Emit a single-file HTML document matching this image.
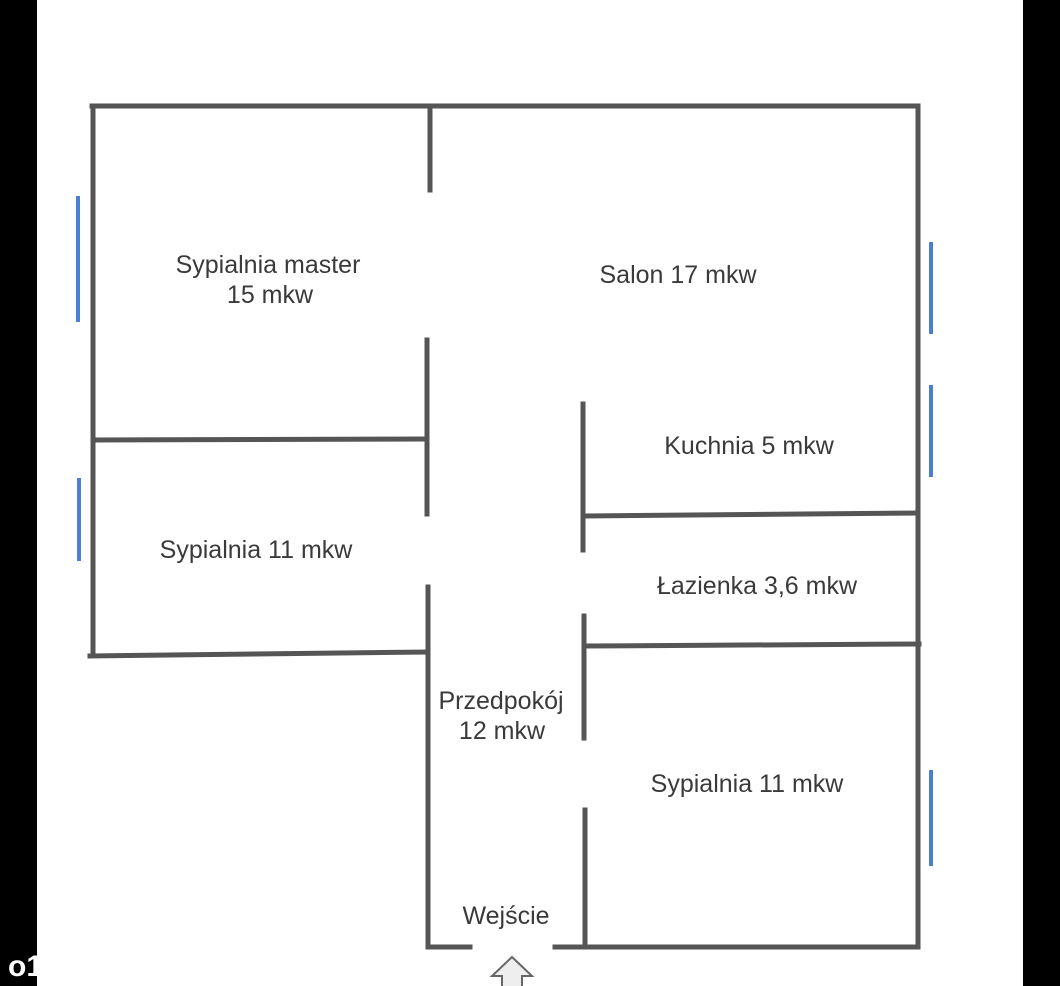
<!DOCTYPE html>
<html><head><meta charset="utf-8"><style>
html,body{margin:0;padding:0;background:#fff;}
svg{display:block;}
text{font-family:"Liberation Sans",sans-serif;font-size:25px;fill:#3a3a3a;}
</style></head><body>
<svg width="1060" height="986" viewBox="0 0 1060 986" xmlns="http://www.w3.org/2000/svg">
<rect x="0" y="0" width="1060" height="986" fill="#fff"/>
<rect x="0" y="0" width="37" height="986" fill="#000"/>
<rect x="1023" y="0" width="37" height="986" fill="#000"/>
<text x="8" y="976" style="fill:#fff;font-size:30px;font-weight:bold">o1</text>
<rect x="37" y="940" width="3" height="46" fill="#fff"/>
<g stroke="#555" stroke-width="5" fill="none" stroke-linecap="square">
<line x1="92" y1="106" x2="918" y2="106"/>
<line x1="93" y1="106" x2="93" y2="654"/>
<line x1="918" y1="106" x2="918" y2="946"/>
<line x1="430" y1="108" x2="430" y2="190"/>
<line x1="427" y1="340" x2="427" y2="514"/>
<line x1="95" y1="440" x2="427" y2="439"/>
<line x1="428" y1="587" x2="428" y2="946"/>
<line x1="90" y1="656" x2="428" y2="652"/>
<line x1="583" y1="404" x2="583" y2="550"/>
<line x1="585" y1="516" x2="918" y2="513"/>
<line x1="584" y1="616" x2="584" y2="738"/>
<line x1="586" y1="646" x2="919" y2="644"/>
<line x1="585" y1="810" x2="585" y2="946"/>
<line x1="428" y1="947" x2="470" y2="947"/>
<line x1="555" y1="947" x2="918" y2="947"/>
</g>
<g stroke="#4a7fd4" stroke-width="4">
<line x1="78" y1="196" x2="78" y2="322"/>
<line x1="79" y1="478" x2="79" y2="561"/>
<line x1="931" y1="242" x2="931" y2="334"/>
<line x1="931" y1="385" x2="931" y2="477"/>
<line x1="931" y1="770" x2="931" y2="866"/>
</g>
<polygon points="512,957 532,976 522,976 522,990 502,990 502,976 492,976" fill="#eee" stroke="#666" stroke-width="2"/>
<text x="268" y="273" text-anchor="middle">Sypialnia master</text>
<text x="270" y="303" text-anchor="middle">15 mkw</text>
<text x="678" y="283" text-anchor="middle">Salon 17 mkw</text>
<text x="749" y="454" text-anchor="middle">Kuchnia 5 mkw</text>
<text x="256" y="558" text-anchor="middle">Sypialnia 11 mkw</text>
<text x="757" y="594" text-anchor="middle">Łazienka 3,6 mkw</text>
<text x="501" y="709" text-anchor="middle">Przedpokój</text>
<text x="502" y="739" text-anchor="middle">12 mkw</text>
<text x="747" y="792" text-anchor="middle">Sypialnia 11 mkw</text>
<text x="506" y="924" text-anchor="middle">Wejście</text>
</svg>
</body></html>
